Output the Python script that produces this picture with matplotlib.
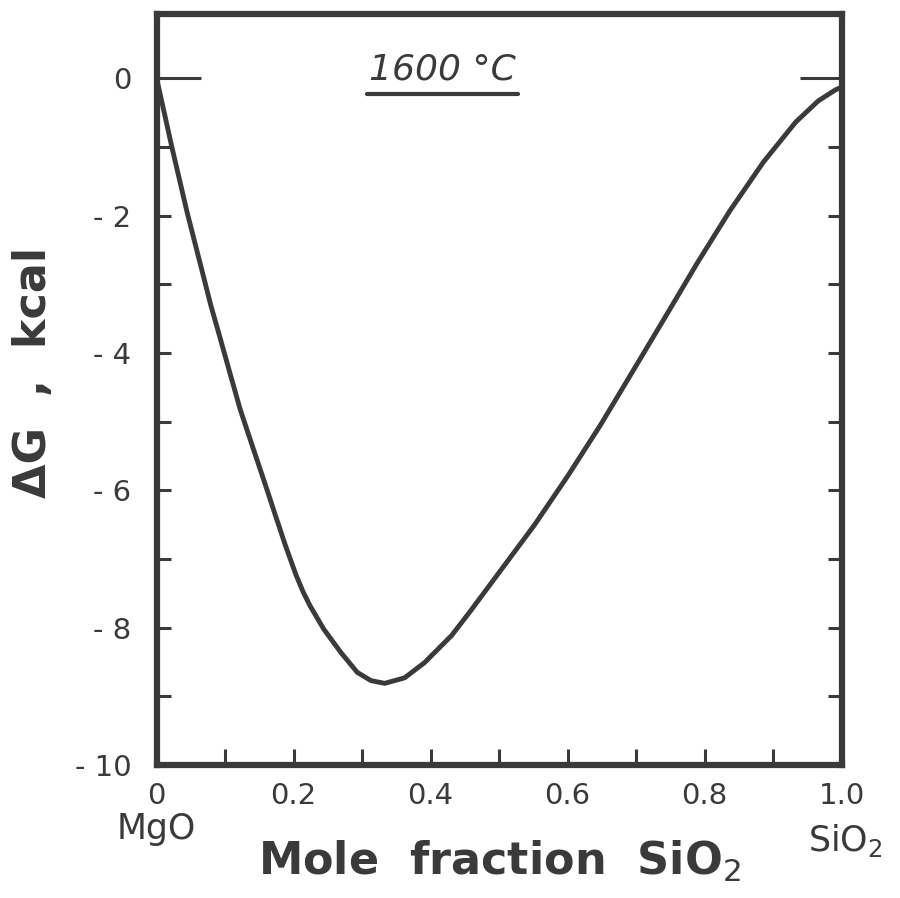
import numpy as np
import matplotlib
matplotlib.use("Agg")
import matplotlib.pyplot as plt
from matplotlib.ticker import MultipleLocator, FixedLocator

# mole fraction SiO2 and free energy of mixing (kcal)
x_sio2 = [0.0, 0.022, 0.045, 0.065, 0.079, 0.091, 0.107, 0.122, 0.140, 0.1575,
          0.173, 0.188, 0.2035, 0.214, 0.224, 0.244, 0.269, 0.293, 0.313, 0.333,
          0.362, 0.391, 0.431, 0.458, 0.505, 0.552, 0.601, 0.648, 0.695, 0.719,
          0.743, 0.790, 0.837, 0.886, 0.933, 0.966, 0.991, 1.0]
dG = [0.0, -0.99, -1.97, -2.75, -3.30, -3.72, -4.29, -4.82, -5.36, -5.88,
      -6.35, -6.80, -7.23, -7.48, -7.68, -8.02, -8.36, -8.65, -8.77, -8.81,
      -8.73, -8.51, -8.11, -7.76, -7.13, -6.50, -5.78, -5.05, -4.27, -3.87,
      -3.47, -2.68, -1.93, -1.22, -0.64, -0.33, -0.17, -0.13]

x_ticks = [0.0, 0.2, 0.4, 0.6, 0.8, 1.0]
x_ticklabels = ["0", "0.2", "0.4", "0.6", "0.8", "1.0"]
y_ticks = [0, -2, -4, -6, -8, -10]
y_ticklabels = ["0", "- 2", "- 4", "- 6", "- 8", "- 10"]

ink = "#3a3a3a"
plt.rcParams['font.family'] = ['DejaVu Sans']

fig = plt.figure(figsize=(9, 8.98), dpi=100)
ax = fig.add_axes([0.174, 0.148, 0.761, 0.836])

ax.plot(x_sio2, dG, color=ink, lw=3.5, solid_joinstyle='round', solid_capstyle='round')

ax.set_xlim(0, 1.0)
ax.set_ylim(-10, 0.93)

for s in ax.spines.values():
    s.set_linewidth(4.5)
    s.set_color(ink)

ax.xaxis.set_major_locator(FixedLocator(x_ticks))
ax.xaxis.set_minor_locator(MultipleLocator(0.1))
ax.set_xticklabels(x_ticklabels)
ax.yaxis.set_major_locator(FixedLocator(y_ticks))
ax.yaxis.set_minor_locator(MultipleLocator(1))
ax.set_yticklabels(y_ticklabels)

ax.tick_params(axis='x', which='both', direction='in', top=False, length=11.5,
               width=2.2, color=ink, pad=12, labelsize=21, labelcolor=ink)
ax.tick_params(axis='y', which='both', direction='in', left=True, right=True,
               length=10, width=2.2, color=ink, pad=18, labelsize=21, labelcolor=ink)

# the zero line ticks are drawn longer on both sides
for t in ax.yaxis.get_major_ticks():
    if t.get_loc() == 0:
        t.tick1line.set_markersize(32)
        t.tick2line.set_markersize(30)

ax.set_xlabel("Mole  fraction  SiO$_2$", fontsize=32, fontweight='bold', color=ink)
ax.xaxis.set_label_coords(0.5, -0.098)
ax.set_ylabel("ΔG  ,  kcal", fontsize=32, fontweight='bold', color=ink)
ax.yaxis.set_label_coords(-0.148, 0.523)

ax.text(0.0, -0.085, "MgO", transform=ax.transAxes, ha='center', va='center',
        fontsize=25, color=ink)
ax.text(1.005, -0.1, "SiO$_2$", transform=ax.transAxes, ha='center', va='center',
        fontsize=25, color=ink)

ax.text(0.418, 0.926, "1600 °C", transform=ax.transAxes, ha='center', va='center',
        fontsize=26, style='italic', color=ink)
ax.plot([0.307, 0.527], [0.894, 0.894], transform=ax.transAxes, color=ink,
        lw=3, solid_capstyle='round', clip_on=False)

fig.savefig("out.png", dpi=100)
